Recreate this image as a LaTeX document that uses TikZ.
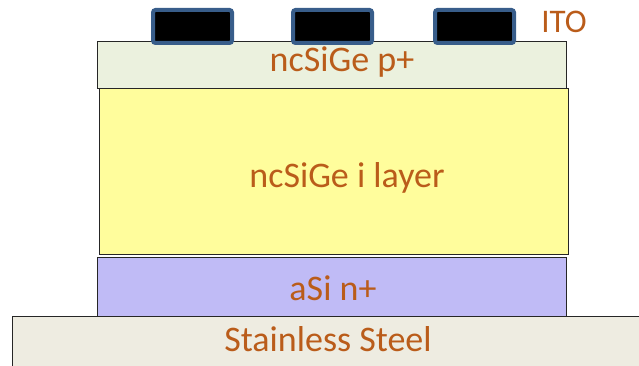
\documentclass[tikz,border=0pt]{standalone}
\usepackage{fontspec}
\setmainfont{Carlito}
\definecolor{txt}{RGB}{186,92,26}
\definecolor{padedge}{HTML}{385D8A}
\definecolor{pfill}{HTML}{EBF1DE}
\definecolor{ifill}{HTML}{FFFD9C}
\definecolor{nfill}{HTML}{C0BBF6}
\definecolor{sfill}{HTML}{EEECE1}
\tikzset{
  layer/.style={draw=black!85, line width=1.4pt, inner sep=0pt, anchor=north west},
  pad/.style={draw=padedge, fill=black, line width=4pt, rounded corners=2.5pt, inner sep=0pt,
              minimum width=79pt, minimum height=33pt, anchor=north west},
  lbl/.style={text=txt, font=\fontsize{36}{42}\selectfont, anchor=base, inner sep=0pt}
}
\begin{document}
\begin{tikzpicture}[x=1pt,y=-1pt]
\useasboundingbox (0,0) rectangle (639,366);
\node[layer, fill=sfill, minimum width=640pt, minimum height=60pt] (steel) at (12,316) {};
\node[layer, fill=nfill, minimum width=469pt, minimum height=59pt] (nplus) at (97,257) {};
\node[layer, fill=ifill, minimum width=469pt, minimum height=166pt] (ilayer) at (99,88) {};
\node[layer, fill=pfill, minimum width=469pt, minimum height=47pt] (pplus) at (97,41) {};
\node[pad] (pad1) at (151,8) {};
\node[pad] (pad2) at (291,8) {};
\node[pad] (pad3) at (433,8) {};
\node[lbl, font=\fontsize{33}{40}\selectfont] (tito) at (564,33) {ITO};
\node[lbl] (tp) at (342,72) {ncSiGe p+};
\node[lbl] (ti) at (347,187) {ncSiGe i layer};
\node[lbl] (tn) at (333,300) {aSi n+};
\node[lbl] (ts) at (328,351) {Stainless Steel};
\end{tikzpicture}
\end{document}
